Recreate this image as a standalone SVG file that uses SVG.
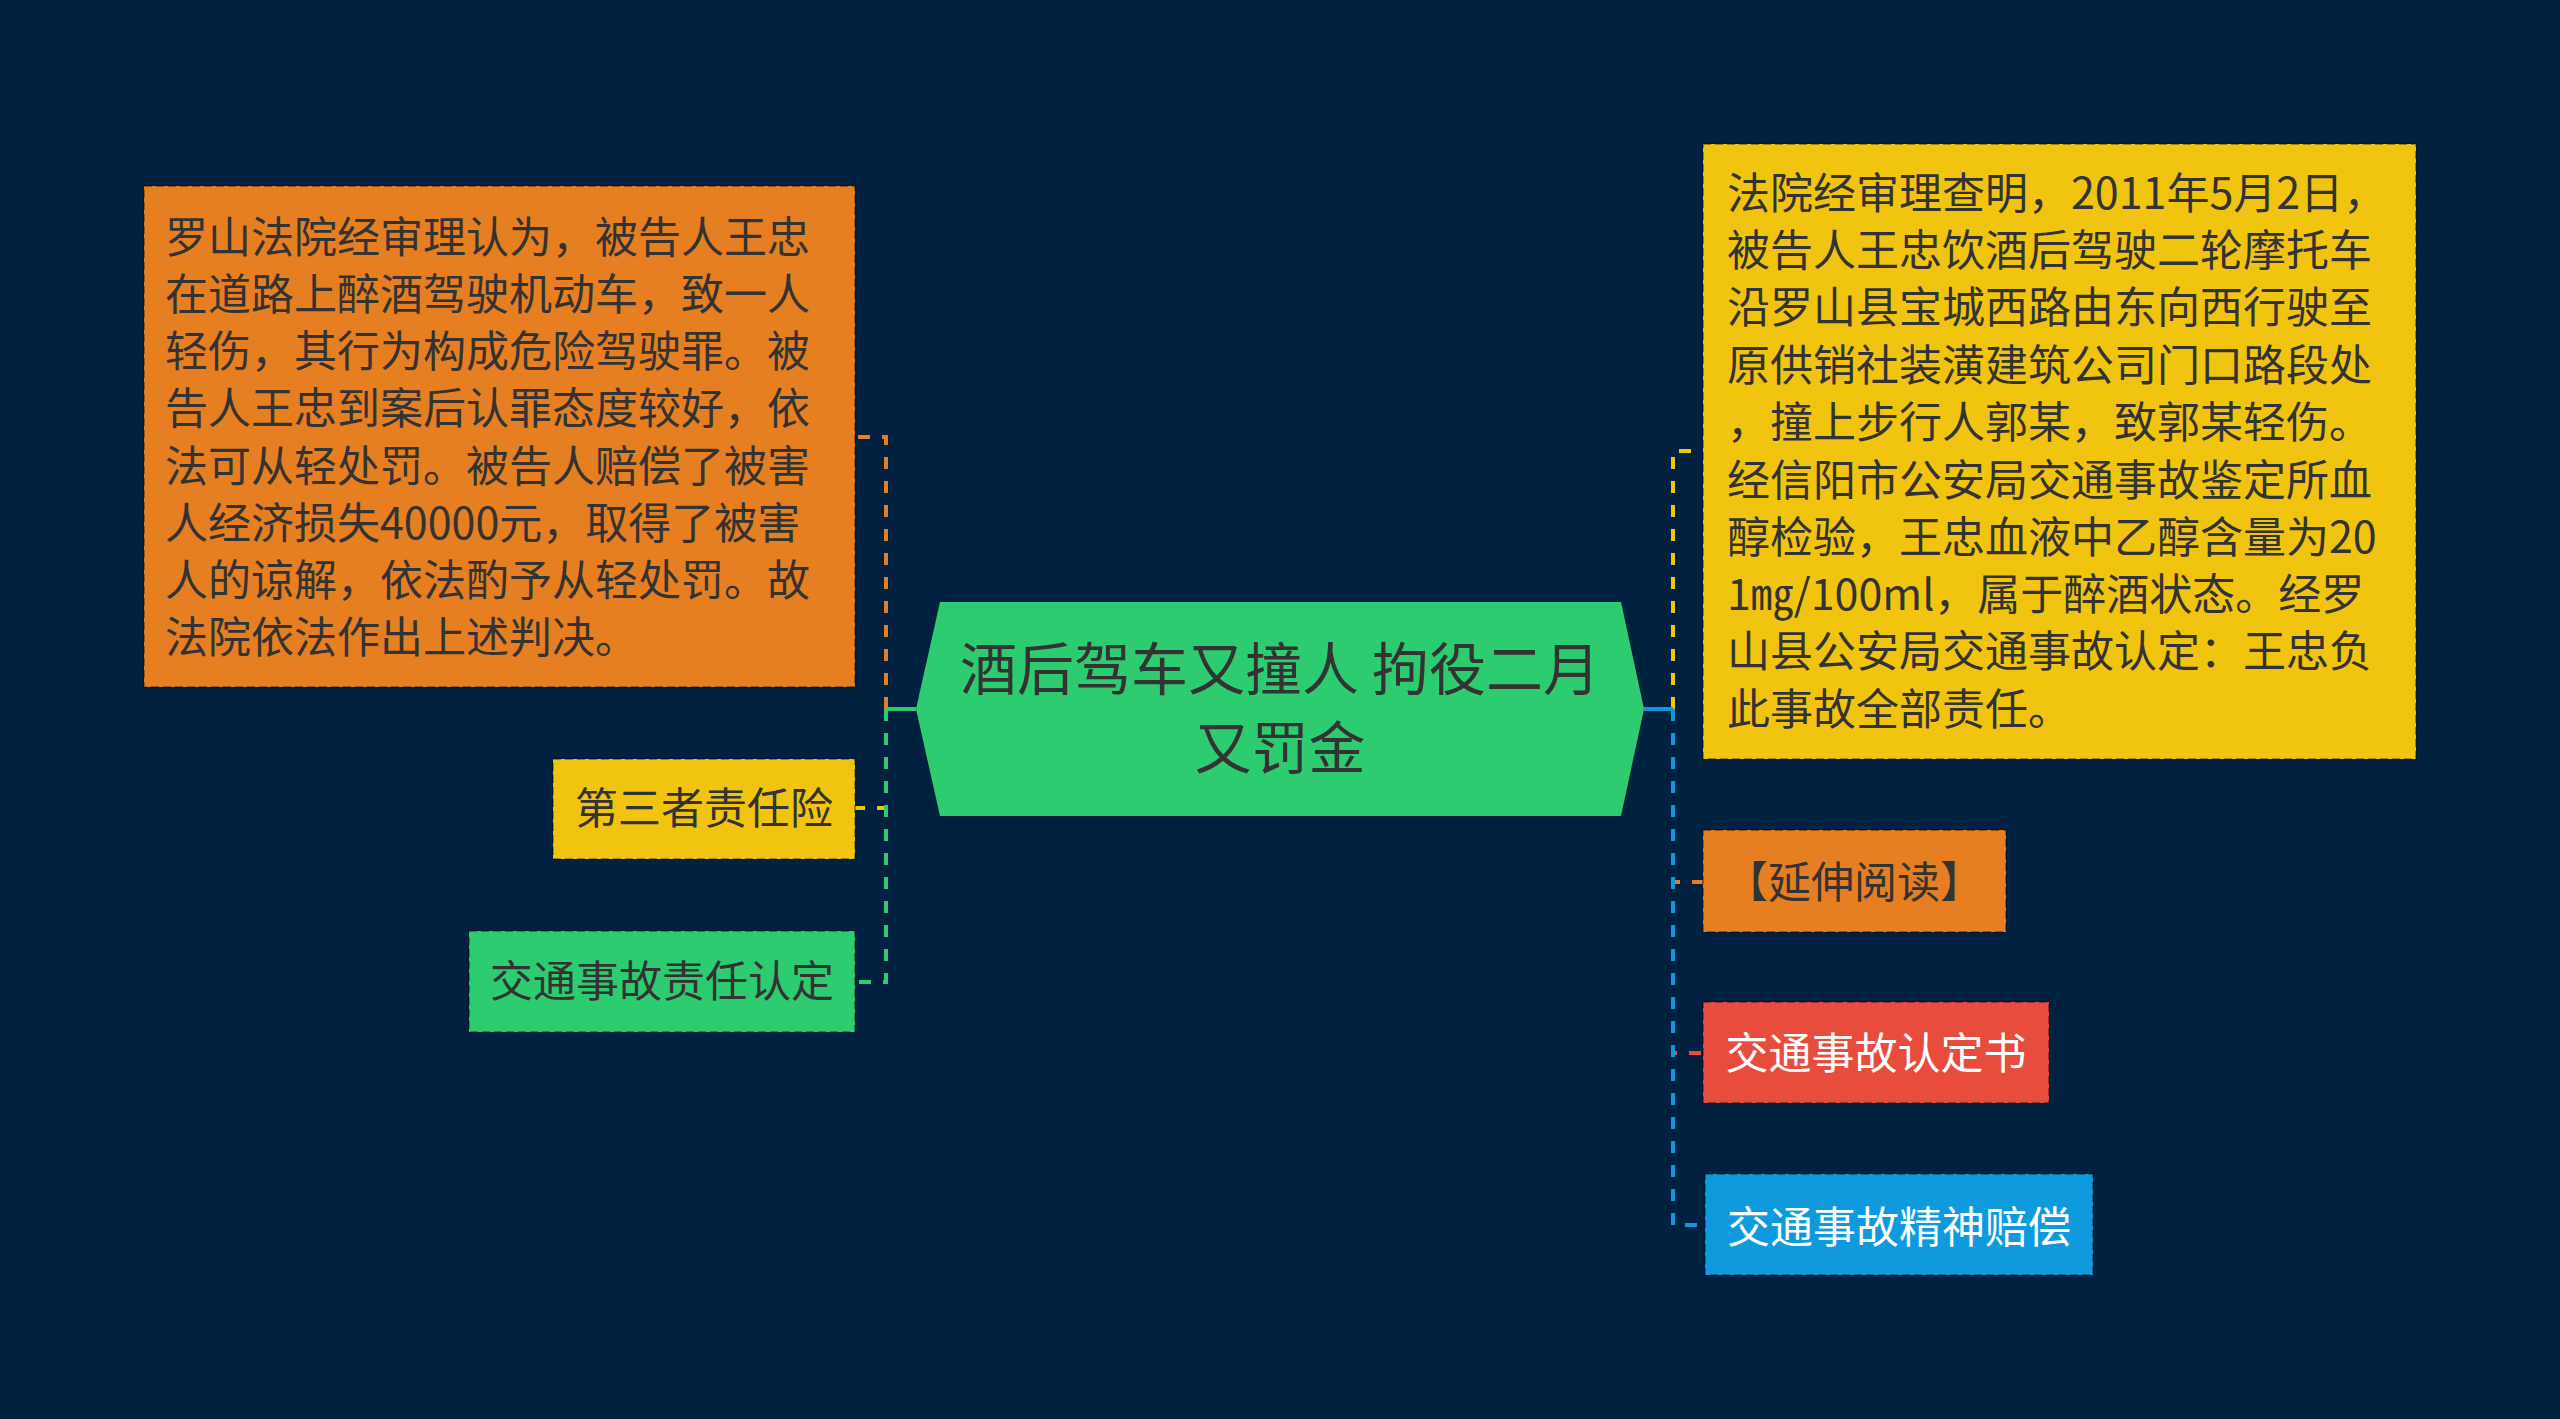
<svg xmlns="http://www.w3.org/2000/svg" width="2560" height="1419" viewBox="0 0 2560 1419">
<style>
.t{font-family:"Noto Sans CJK SC","Noto Sans",sans-serif;font-size:43px;fill:#333333}
.w{fill:#ffffff}
.c{font-size:57px;text-anchor:middle}
.m{text-anchor:middle}
.box{stroke:rgba(0,0,0,0.35);stroke-width:2;stroke-dasharray:8 4}
.dl{fill:none;stroke-width:4;stroke-dasharray:12 12}
.sl{fill:none;stroke-width:4}
</style>
<rect x="0" y="0" width="2560" height="1419" fill="#00213F"/>
<g id="connectors">
<path class="dl" stroke="#E67E22" d="M886 709V437H855"/>
<path class="dl" stroke="#F1C40F" d="M886 709V808H855"/>
<path class="dl" stroke="#2ECC71" d="M886 709V982H855"/>
<path class="sl" stroke="#2ECC71" d="M916 709H886"/>
<path class="dl" stroke="#F1C40F" d="M1673 709V451H1703"/>
<path class="dl" stroke="#E67E22" d="M1673 709V882H1703"/>
<path class="dl" stroke="#E74C3C" d="M1673 709V1053H1703"/>
<path class="dl" stroke="#1296DB" d="M1673 709V1225H1705"/>
<path class="sl" stroke="#1296DB" d="M1644 709H1673"/>
</g>
<g id="center">
<polygon points="940,602 1621,602 1644,709 1621,816 940,816 916,709" fill="#2ECC71"/>
<text class="t c" x="1280" y="690">酒后驾车又撞人 拘役二月</text>
<text class="t c" x="1280" y="769">又罚金</text>
</g>
<g id="node-left-judgment">
<rect class="box" x="144" y="186" width="711" height="501" fill="#E67E22"/>
<text class="t" x="165" y="253">罗山法院经审理认为，被告人王忠</text>
<text class="t" x="165" y="310">在道路上醉酒驾驶机动车，致一人</text>
<text class="t" x="165" y="367">轻伤，其行为构成危险驾驶罪。被</text>
<text class="t" x="165" y="424">告人王忠到案后认罪态度较好，依</text>
<text class="t" x="165" y="482">法可从轻处罚。被告人赔偿了被害</text>
<text class="t" x="165" y="539">人经济损失40000元，取得了被害</text>
<text class="t" x="165" y="596">人的谅解，依法酌予从轻处罚。故</text>
<text class="t" x="165" y="653">法院依法作出上述判决。</text>
</g>
<g id="node-insurance">
<rect class="box" x="553" y="759" width="302" height="100" fill="#F1C40F"/>
<text class="t m" x="704" y="824">第三者责任险</text>
</g>
<g id="node-liability">
<rect class="box" x="469" y="931" width="386" height="101" fill="#2ECC71"/>
<text class="t m" x="662" y="997">交通事故责任认定</text>
</g>
<g id="node-right-facts">
<rect class="box" x="1703" y="144" width="713" height="615" fill="#F1C40F"/>
<text class="t" x="1727" y="209">法院经审理查明，2011年5月2日，</text>
<text class="t" x="1727" y="266">被告人王忠饮酒后驾驶二轮摩托车</text>
<text class="t" x="1727" y="323">沿罗山县宝城西路由东向西行驶至</text>
<text class="t" x="1727" y="381">原供销社装潢建筑公司门口路段处</text>
<text class="t" x="1727" y="438">，撞上步行人郭某，致郭某轻伤。</text>
<text class="t" x="1727" y="496">经信阳市公安局交通事故鉴定所血</text>
<text class="t" x="1727" y="553">醇检验，王忠血液中乙醇含量为20</text>
<text class="t" x="1727" y="610">1㎎/100ml，属于醉酒状态。经罗</text>
<text class="t" x="1727" y="667">山县公安局交通事故认定：王忠负</text>
<text class="t" x="1727" y="725">此事故全部责任。</text>
</g>
<g id="node-reading">
<rect class="box" x="1703" y="830" width="303" height="102" fill="#E67E22"/>
<text class="t m" x="1854" y="898">【延伸阅读】</text>
</g>
<g id="node-report">
<rect class="box" x="1703" y="1002" width="346" height="101" fill="#E74C3C"/>
<text class="t w m" x="1876" y="1069">交通事故认定书</text>
</g>
<g id="node-compensation">
<rect class="box" x="1705" y="1174" width="388" height="101" fill="#0E9ADD"/>
<text class="t w m" x="1899" y="1243">交通事故精神赔偿</text>
</g>
</svg>
